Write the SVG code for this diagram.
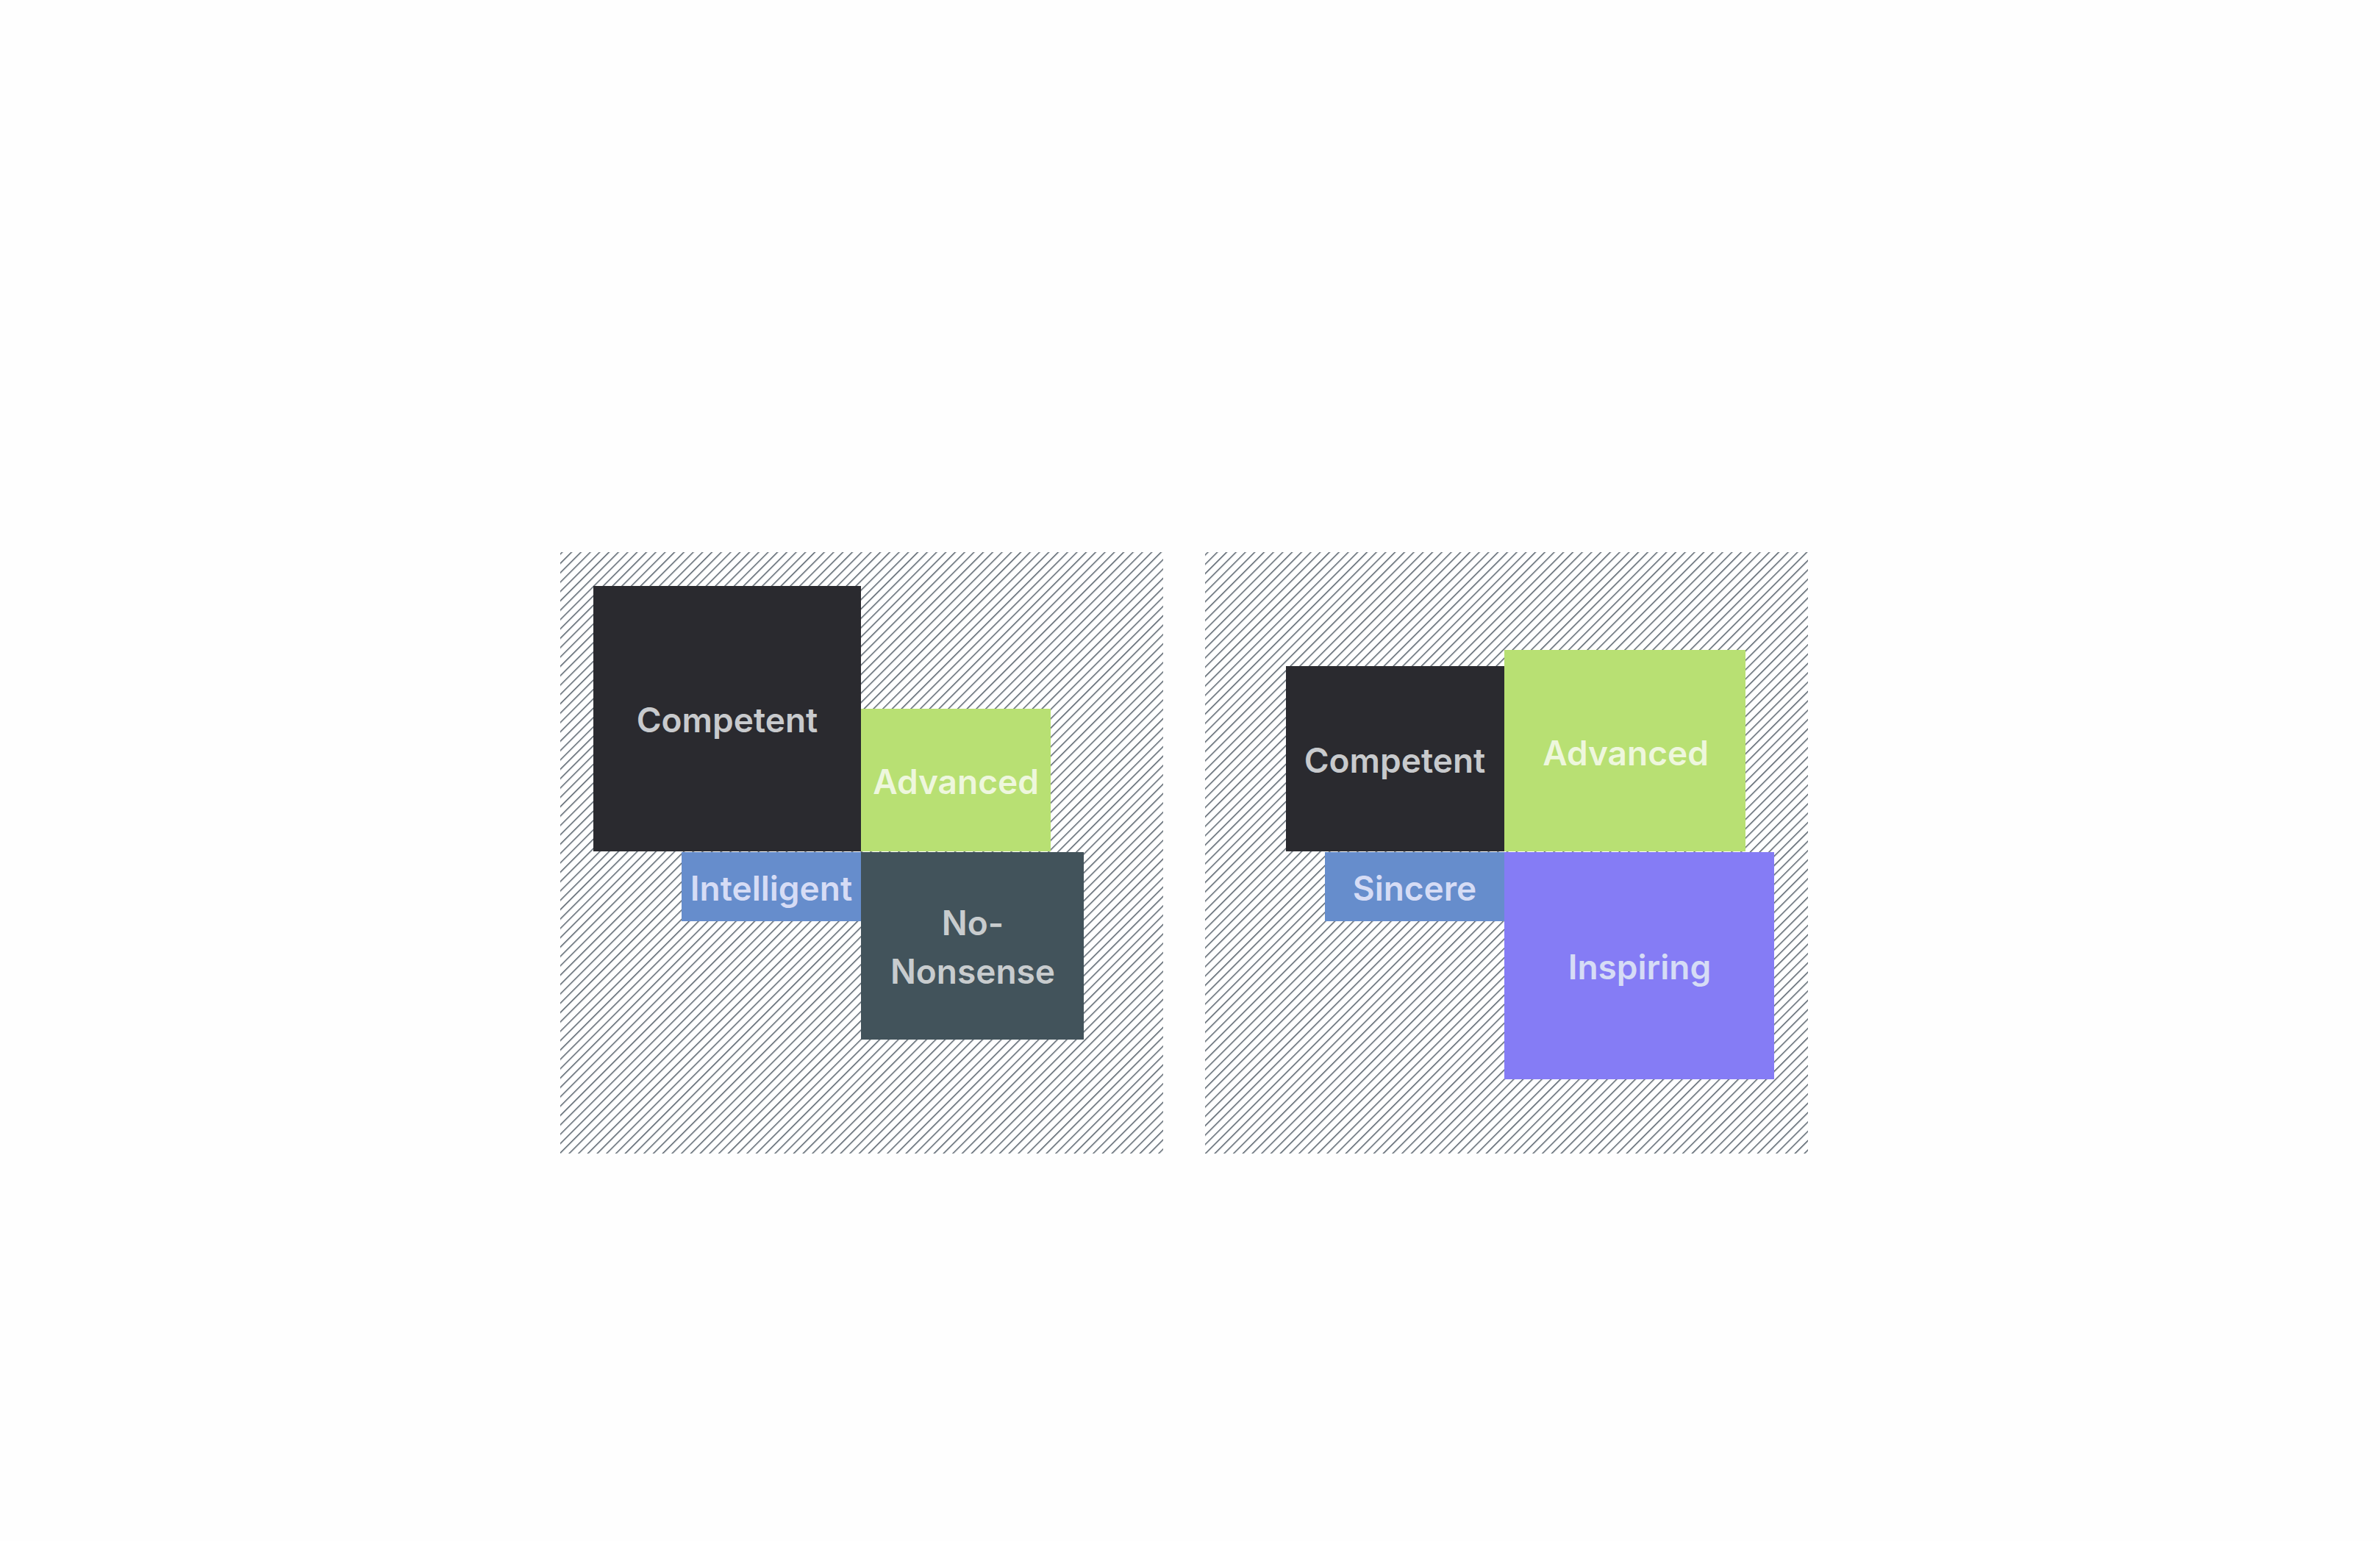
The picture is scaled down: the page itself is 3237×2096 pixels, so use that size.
<svg xmlns="http://www.w3.org/2000/svg" width="3237" height="2096" viewBox="0 0 3237 2096">
<defs>
<pattern id="hatch" patternUnits="userSpaceOnUse" width="9" height="9" patternTransform="rotate(45)">
<rect width="9" height="9" fill="#ffffff"/>
<line x1="0" y1="0" x2="0" y2="9" stroke="#55606a" stroke-width="3"/>
</pattern>
</defs>
<style>
text{font-family:Inter,"Noto Sans",sans-serif;font-weight:600;font-size:46px;text-anchor:middle;dominant-baseline:central}
</style>
<rect width="3237" height="2096" fill="#fefefe"/>
<g id="panel-left"><rect x="762" y="751" width="820" height="818" fill="url(#hatch)"/></g>
<g id="panel-right"><rect x="1639" y="751" width="820" height="818" fill="url(#hatch)"/></g>
<g id="connectors"></g>
<g id="competent1"><rect x="807" y="797" width="364" height="361" fill="#2a2a2f"/><text x="989" y="979" fill="#c8cacd">Competent</text></g>
<g id="advanced1"><rect x="1171" y="964" width="258" height="194" fill="#b8e073"/><text x="1300" y="1063" fill="#eef7dd">Advanced</text></g>
<g id="intelligent"><rect x="927" y="1159" width="244" height="94" fill="#668dcc"/><text x="1049" y="1208" fill="#d6dcf5">Intelligent</text></g>
<g id="nononsense"><rect x="1171" y="1159" width="303" height="255" fill="#42535b"/><text x="1323" y="1255" fill="#c8ccce">No-</text><text x="1323" y="1321" fill="#c8ccce">Nonsense</text></g>
<g id="competent2"><rect x="1749" y="906" width="297" height="252" fill="#2a2a2f"/><text x="1897" y="1034" fill="#c8cacd">Competent</text></g>
<g id="advanced2"><rect x="2046" y="884" width="328" height="274" fill="#b8e073"/><text x="2211" y="1024" fill="#eef7dd">Advanced</text></g>
<g id="sincere"><rect x="1802" y="1159" width="244" height="94" fill="#668dcc"/><text x="1924" y="1208" fill="#d6dcf5">Sincere</text></g>
<g id="inspiring"><rect x="2046" y="1159" width="367" height="309" fill="#857cf5"/><text x="2230" y="1315" fill="#d6dcf5">Inspiring</text></g>
</svg>
